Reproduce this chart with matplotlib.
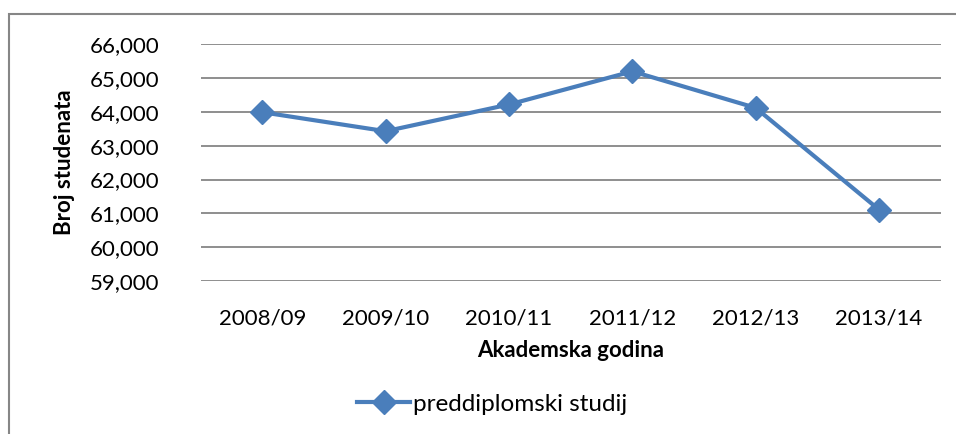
import matplotlib
matplotlib.use('Agg')
import matplotlib.pyplot as plt
from matplotlib.patches import Rectangle

# Data
years = ['2008/09', '2009/10', '2010/11', '2011/12', '2012/13', '2013/14']
students = [63990, 63430, 64220, 65200, 64120, 61110]
series_name = 'preddiplomski studij'
y_ticks = [59000, 60000, 61000, 62000, 63000, 64000, 65000, 66000]

plt.rcParams['font.family'] = ['Lato', 'DejaVu Sans']

fig = plt.figure(figsize=(9.56, 4.34), dpi=100)
W, H = 956, 434

# Plot area placed to match the reference pixel box
left, right, top, bottom = 200.7, 940.7, 44.3, 281
ax = fig.add_axes([left / W, 1 - bottom / H, (right - left) / W, (bottom - top) / H])

x = list(range(len(years)))
ax.plot(x, students, color='#4A7EBB', lw=3, marker='D', markersize=12,
        label=series_name, solid_joinstyle='miter', zorder=3)

ax.set_xlim(-0.5, len(years) - 0.5)
ax.set_ylim(59000, 66000)
ax.set_yticks(y_ticks)
ax.set_yticklabels([f'{v:,}' for v in y_ticks])
ax.set_xticks(x)
ax.set_xticklabels(years)
ax.tick_params(length=0, labelsize=16)
ax.tick_params(axis='y', pad=30)
ax.tick_params(axis='x', pad=20)

# Horizontal gridlines only
ax.yaxis.grid(True, color='#868686', lw=1.3)
ax.set_axisbelow(True)
for s in ax.spines.values():
    s.set_visible(False)

ax.set_ylabel('Broj studenata', fontsize=16, fontweight='bold', labelpad=10)
ax.set_xlabel('Akademska godina', fontsize=16, fontweight='bold', labelpad=8)

leg = fig.legend(loc='center', bbox_to_anchor=(492 / W, 1 - 404 / H), frameon=False,
                 fontsize=17.5, handlelength=2.2, handletextpad=0.1)

# Outer chart border (cut off on right and bottom like the reference)
fig.patches.append(Rectangle((9 / W, -0.1), 1.2, 1 - 14 / H + 0.1,
                             transform=fig.transFigure, fill=False,
                             edgecolor='#868686', lw=1.5))

fig.savefig('out.png', dpi=100)
